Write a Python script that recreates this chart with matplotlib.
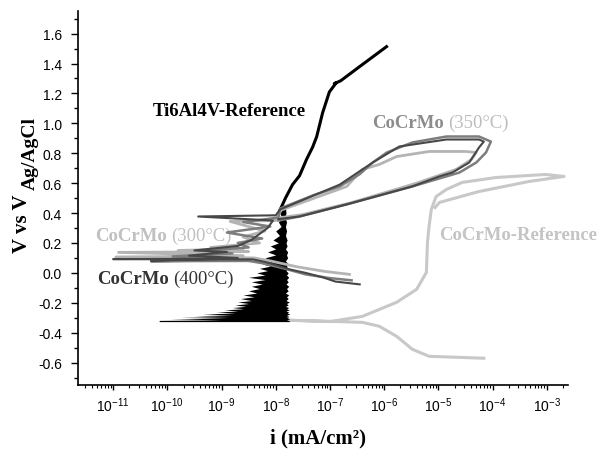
import numpy as np
import matplotlib
matplotlib.use("Agg")
import matplotlib.pyplot as plt
from matplotlib.ticker import FixedLocator, LogLocator, MultipleLocator, NullFormatter

plt.rcParams['font.family'] = ['Liberation Sans', 'DejaVu Sans']

# --- data (current as log10 of mA/cm2, potential in V vs Ag/AgCl) ---
# Ti6Al4V reference: noisy cathodic band (left/right edges) + anodic line
ti_band_v = [-0.326, -0.318, -0.314, -0.308, -0.303, -0.298, -0.292, -0.287, -0.281, -0.276,
             -0.268, -0.262, -0.255, -0.248, -0.240, -0.232, -0.224, -0.215, -0.205, -0.195,
             -0.185, -0.172, -0.160, -0.148, -0.135, -0.120, -0.105, -0.090, -0.075, -0.060,
             -0.045, -0.030, -0.015, 0.000, 0.015, 0.030, 0.045, 0.060, 0.080, 0.100,
             0.120, 0.140, 0.160, 0.180, 0.200, 0.220, 0.250, 0.280, 0.310, 0.340,
             0.370, 0.400, 0.437]
ti_band_left = [-10.15, -10.15, -9.0, -9.95, -8.9, -9.75, -8.85, -9.5, -8.8, -9.35,
                -8.75, -9.1, -8.7, -8.95, -8.6, -8.8, -8.55, -8.75, -8.5, -8.7,
                -8.45, -8.65, -8.4, -8.6, -8.35, -8.5, -8.3, -8.45, -8.25, -8.45,
                -8.2, -8.5, -8.2, -8.35, -8.15, -8.3, -8.1, -8.25, -8.05, -8.2,
                -8.0, -8.15, -8.0, -8.1, -7.95, -8.05, -7.93, -8.0, -7.9, -7.95,
                -7.88, -7.93, -7.9]
ti_band_right = [-7.74, -7.76, -7.80, -7.74, -7.79, -7.75, -7.81, -7.76, -7.80, -7.74,
                 -7.79, -7.76, -7.81, -7.75, -7.80, -7.76, -7.82, -7.77, -7.80, -7.75,
                 -7.81, -7.77, -7.80, -7.76, -7.82, -7.77, -7.80, -7.76, -7.81, -7.77,
                 -7.80, -7.76, -7.80, -7.77, -7.81, -7.78, -7.80, -7.77, -7.82, -7.78,
                 -7.80, -7.78, -7.82, -7.79, -7.81, -7.79, -7.82, -7.80, -7.82, -7.80,
                 -7.83, -7.81, -7.82]
ti_logi = [-7.92, -7.82, -7.69, -7.56, -7.43, -7.32, -7.245, -7.135, -7.01, -6.88, -6.92,
           -6.80, -6.45, -5.955]
ti_v = [0.42, 0.50, 0.59, 0.65, 0.76, 0.84, 0.91, 1.07, 1.21, 1.273, 1.265, 1.285, 1.38, 1.513]

# CoCrMo reference
ref_logi = [-4.16, -5.17, -5.48, -5.77, -6.09, -6.40, -7.00, -7.74, -7.00, -6.40, -5.77, -5.40,
            -5.22, -5.20, -5.17, -5.13, -5.04, -4.85, -4.56, -3.93, -3.02, -2.68, -3.33, -4.25,
            -4.98, -5.06]
ref_v = [-0.571, -0.558, -0.511, -0.424, -0.357, -0.331, -0.324, -0.317, -0.326, -0.291, -0.197,
         -0.110, 0.003, 0.204, 0.311, 0.424, 0.511, 0.558, 0.605, 0.638, 0.658, 0.645, 0.611,
         0.544, 0.471, 0.437]

# CoCrMo 300 C
c300_logi = [-6.64, -7.10, -7.60, -8.10, -8.40, -10.95, -8.6, -10.9, -8.5, -9.8, -8.6, -9.2,
             -8.3, -8.6, -8.2, -8.84, -8.0, -7.9, -6.69, -6.40, -6.09, -5.77, -5.17, -4.49,
             -4.30, -4.39, -4.67, -5.40, -6.60, -7.50, -7.90]
c300_v = [-0.01, 0.01, 0.04, 0.08, 0.10, 0.105, 0.115, 0.137, 0.142, 0.15, 0.16, 0.17,
          0.20, 0.24, 0.28, 0.344, 0.35, 0.42, 0.578, 0.692, 0.725, 0.778, 0.812, 0.812,
          0.805, 0.758, 0.692, 0.60, 0.47, 0.39, 0.37]

# CoCrMo 350 C
c350_logi = [-6.60, -7.00, -7.45, -7.85, -8.25, -8.5, -10.3, -8.7, -10.1, -9.2, -9.9, -8.8,
             -9.3, -8.5, -8.7, -8.25, -8.9, -8.1, -8.6, -7.95, -7.92, -7.3, -6.82, -6.45,
             -6.21, -5.95, -5.48, -4.85, -4.25, -4.03, -4.12, -4.30, -4.61, -5.48, -6.69,
             -7.56, -7.95]
c350_v = [-0.05, -0.035, -0.01, 0.03, 0.065, 0.08, 0.078, 0.085, 0.088, 0.095, 0.11, 0.13,
          0.15, 0.17, 0.20, 0.23, 0.27, 0.31, 0.34, 0.37, 0.43, 0.52, 0.578, 0.66,
          0.738, 0.805, 0.872, 0.912, 0.912, 0.878, 0.805, 0.738, 0.671, 0.578, 0.458,
          0.377, 0.35]

# CoCrMo 400 C
c400_logi = [-6.45, -6.90, -7.13, -7.45, -7.74, -8.16, -8.42, -11.0, -8.8, -10.3, -8.7, -9.6,
             -8.9, -9.5, -8.7, -8.45, -8.3, -8.15, -8.05, -9.43, -8.0, -7.92, -6.82, -6.21,
             -5.72, -4.85, -4.25, -4.16, -4.25, -4.43, -4.74, -4.98, -5.48, -6.69, -7.56,
             -7.95]
c400_v = [-0.077, -0.058, -0.030, 0.0, 0.023, 0.07, 0.09, 0.092, 0.095, 0.082, 0.10, 0.115,
          0.14, 0.15, 0.18, 0.22, 0.26, 0.30, 0.35, 0.377, 0.385, 0.424, 0.59, 0.738,
          0.845, 0.892, 0.892, 0.878, 0.838, 0.738, 0.671, 0.645, 0.578, 0.458, 0.377,
          0.36]

x_decades = [-11, -10, -9, -8, -7, -6, -5, -4, -3]

c_ref = '#c8c8c8'
c300 = '#b4b4b4'
c350 = '#7d7d7d'
c400 = '#474747'

fig = plt.figure(figsize=(5.99, 4.52), dpi=100)
ax = fig.add_axes([0.130, 0.146, 0.818, 0.827])

p = lambda a: 10.0 ** np.array(a, dtype=float)

ax.plot(p(ref_logi), ref_v, color=c_ref, lw=2.2, zorder=1)
ax.fill_betweenx(ti_band_v, p(ti_band_left), p(ti_band_right), color='black', lw=0, zorder=2)
ax.plot(p(ti_logi), ti_v, color='black', lw=2.2, zorder=2)
ax.plot(p(c300_logi), c300_v, color=c300, lw=2.0, zorder=3)
ax.plot(p(c350_logi), c350_v, color=c350, lw=1.8, zorder=4)
ax.plot(p(c400_logi), c400_v, color=c400, lw=1.5, zorder=5)

ax.set_xscale('log')
ax.set_xlim(10 ** -11.65, 10 ** -2.61)
ax.set_ylim(-0.75, 1.75)

ax.xaxis.set_major_locator(FixedLocator(p(x_decades)))
ax.xaxis.set_minor_locator(LogLocator(base=10, subs=np.arange(2, 10), numticks=20))
ax.xaxis.set_minor_formatter(NullFormatter())
ax.yaxis.set_minor_locator(MultipleLocator(0.1))
ax.set_yticks(np.arange(-0.6, 1.61, 0.2))
ax.set_yticklabels([f'{v:.1f}' for v in np.arange(-0.6, 1.61, 0.2)])

ax.tick_params(axis='both', which='major', labelsize=10, width=1, direction='out')
ax.tick_params(axis='y', which='major', length=4.8, pad=6.5)
ax.tick_params(axis='y', which='minor', length=3, width=1)
ax.tick_params(axis='x', which='major', length=3.8, pad=4)
ax.tick_params(axis='x', which='minor', length=2, width=0.8)
for s in ['top', 'right']:
    ax.spines[s].set_visible(False)
for s in ['left', 'bottom']:
    ax.spines[s].set_linewidth(1.2)

serif = 'Liberation Serif'
W, H = 599.0, 452.0

def ft(px, py, s, **kw):
    return fig.text(px / W, 1 - py / H, s, family=serif, va='baseline', **kw)

# axis labels
ft(318, 443, 'i (mA/cm²)', fontsize=15, weight='bold', ha='center')
ft(27, 253, 'V vs V', fontsize=15, weight='bold', rotation=90, rotation_mode='anchor', ha='left')
ft(35, 190, 'Ag/AgCl', fontsize=14, weight='bold', rotation=90, rotation_mode='anchor', ha='left')

# curve labels
def label2(px, py, a, b, ca, cb):
    t = ft(px, py, a, fontsize=13.5, weight='bold', color=ca)
    ax.annotate(b, xy=(1, 0), xycoords=t, xytext=(3, 0), textcoords='offset points',
                va='bottom', ha='left', family=serif, fontsize=13.5, color=cb)

ft(153, 116, 'Ti6Al4V-Reference', fontsize=13.5, weight='bold', color='black')
ft(439, 240, 'CoCrMo-Reference', fontsize=13.5, weight='bold', color='#c4c4c4')
label2(372, 128, 'CoCrMo', '(350°C)', '#8c8c8c', '#bdbdbd')
label2(95, 241, 'CoCrMo', '(300°C)', '#c0c0c0', '#c0c0c0')
label2(97, 284, 'CoCrMo', '(400°C)', '#333333', '#333333')

fig.savefig('out.png', dpi=100)
